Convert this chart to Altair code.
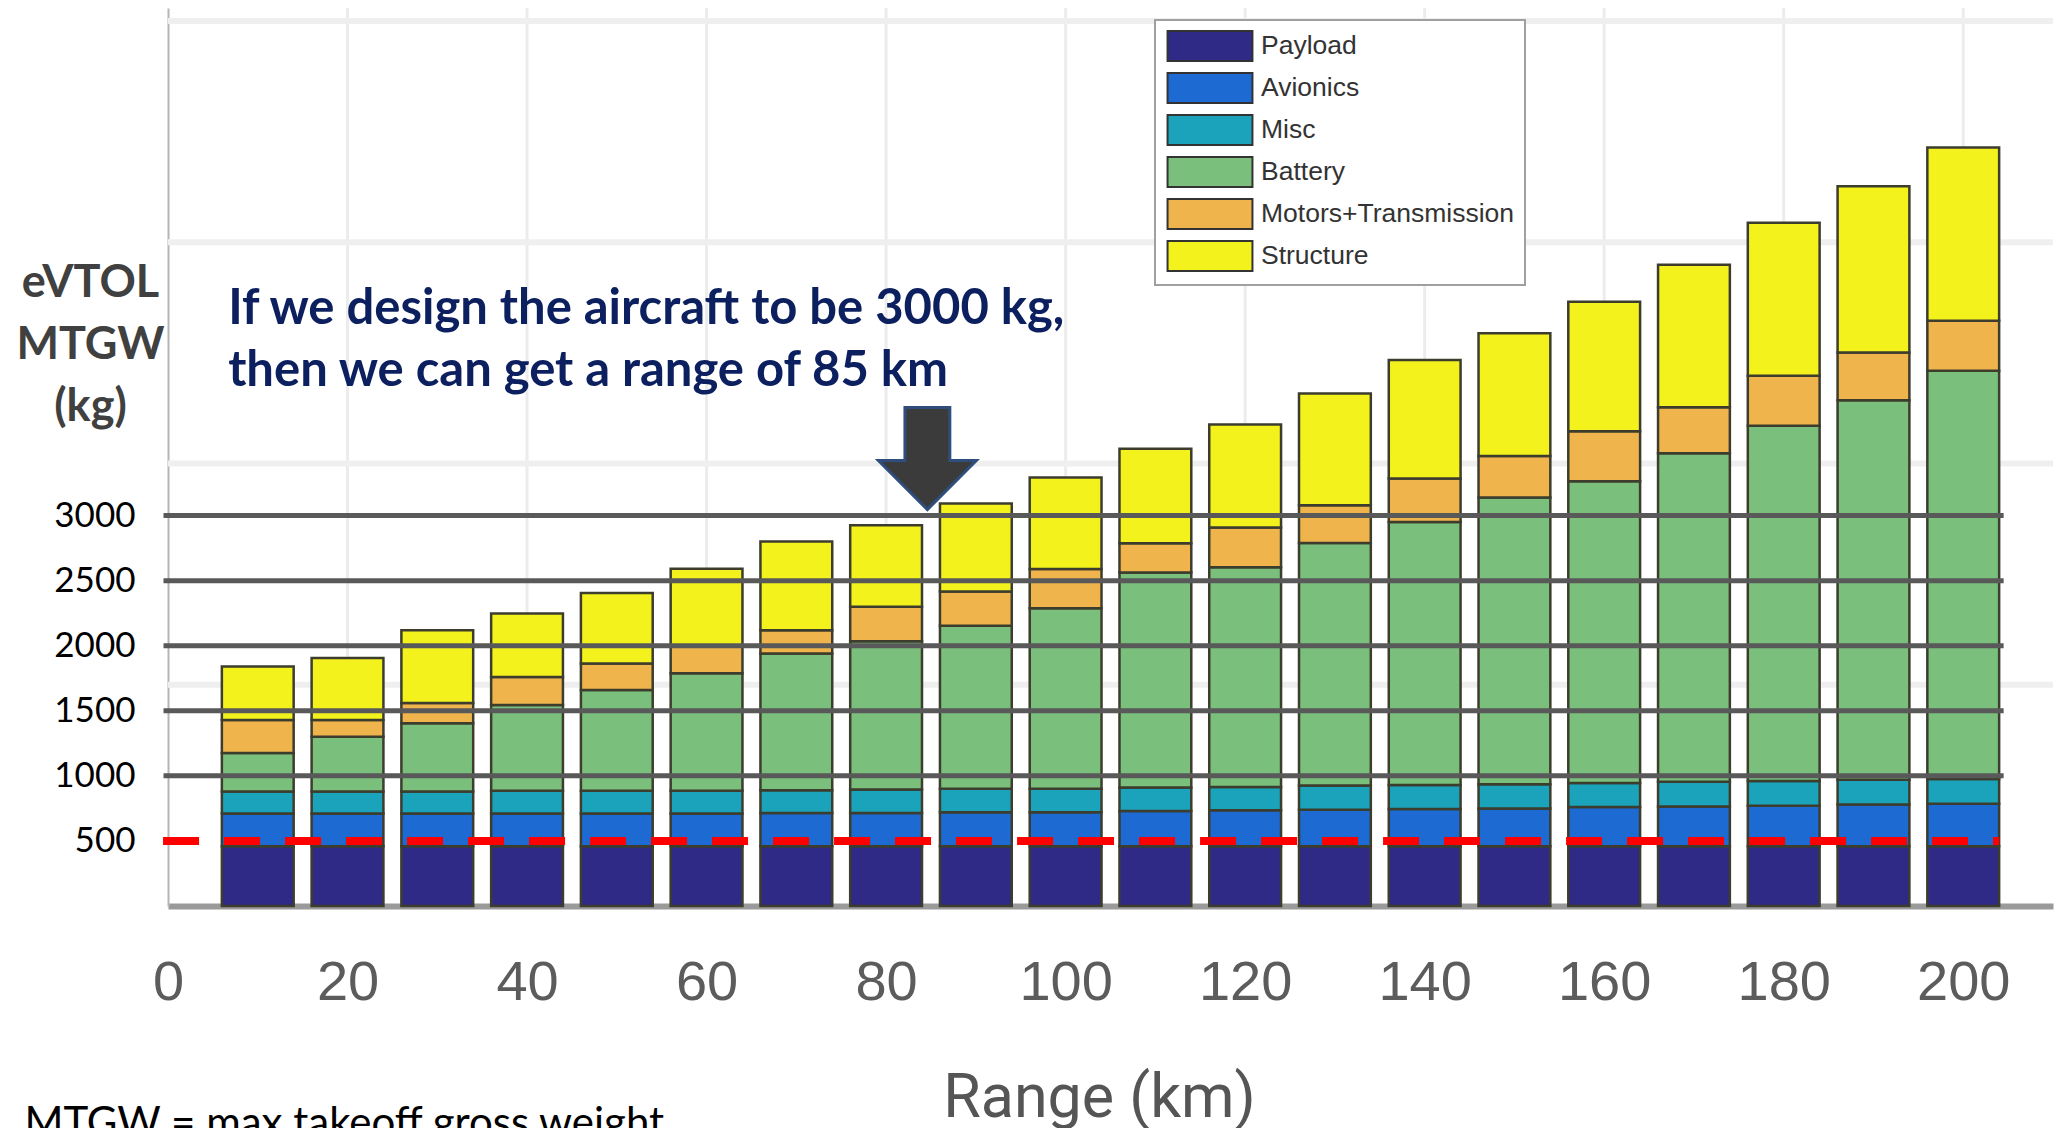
import altair as alt
import pandas as pd

# ---------------- data ----------------
ranges = [10, 20, 30, 40, 50, 60, 70, 80, 90, 100,
          110, 120, 130, 140, 150, 160, 170, 180, 190, 200]
payload_kg = [460, 460, 460, 460, 460, 460, 460, 460, 460, 460,
              460, 460, 460, 460, 460, 460, 460, 460, 460, 460]
avionics_kg = [250, 250, 250, 250, 250, 250, 255, 255, 260, 260,
               270, 275, 280, 285, 290, 300, 305, 310, 320, 325]
misc_kg = [170, 170, 170, 175, 175, 175, 175, 180, 180, 180,
           180, 180, 185, 185, 185, 185, 190, 190, 190, 190]
battery_kg = [295, 420, 525, 660, 775, 903, 1050, 1140, 1253, 1387,
              1653, 1688, 1864, 2020, 2203, 2319, 2524, 2731, 2916, 3138]
motors_kg = [255, 130, 155, 215, 203, 210, 178, 264, 264, 303,
             225, 306, 291, 334, 320, 384, 353, 384, 366, 384]
structure_kg = [410, 475, 558, 488, 542, 594, 682, 626, 676, 702,
                726, 790, 857, 911, 942, 995, 1096, 1174, 1279, 1332]

components = ["Payload", "Avionics", "Misc", "Battery",
              "Motors+Transmission", "Structure"]
comp_colors = ["#2e2a86", "#1c6ad2", "#1ba3bb", "#7abf7c", "#efb44c", "#f4f21c"]

x_ticks = [0, 20, 40, 60, 80, 100, 120, 140, 160, 180, 200]
y_ticks = [500, 1000, 1500, 2000, 2500, 3000]
bold_grid_kg = [1000, 1500, 2000, 2500, 3000]
dashed_kg = [500]
faint_grid_kg = [1700, 3400, 5100, 6800]
faint_grid_km = [20, 40, 60, 80, 100, 120, 140, 160, 180, 200]

arrow_km = [84.6]
arrow_kg = [3438]

note_lines = ["If we design the aircraft to be 3000 kg,",
              "then we can get a range of 85 km"]
note_km = [6.7, 6.7]
note_kg = [4475, 3995]

foot_text = ["MTGW = max takeoff gross weight"]
foot_km = [-16.0]
foot_kg = [-1773]

# ---------------- tables ----------------
series = [payload_kg, avionics_kg, misc_kg, battery_kg, motors_kg, structure_kg]
rows = []
for i, r in enumerate(ranges):
    base = 0
    for k, (name, vals) in enumerate(zip(components, series)):
        rows.append({"Range": r, "Component": name, "lo": base,
                     "hi": base + vals[i], "order": k})
        base += vals[i]
bars_df = pd.DataFrame(rows)

HELV = "Liberation Sans, Roboto, sans-serif"

xscale = alt.Scale(domain=[0, 210], nice=False, zero=False)
yscale = alt.Scale(domain=[0, 6900], nice=False, zero=False)

x_axis = alt.Axis(values=x_ticks, title="Range (km)", labelFont=HELV,
                  labelFontSize=56, labelColor="#5c5c5c", labelBaseline="middle",
                  labelPadding=76, ticks=False, grid=False, domainColor="#9a9a9a",
                  domainWidth=6, labelFlush=False, labelOverlap=False,
                  titleFont="Roboto", titleFontSize=61, titleFontWeight="normal",
                  titleColor="#555555", titleX=931, titleY=210,
                  titleBaseline="alphabetic", titleAlign="center")

y_axis = alt.Axis(values=y_ticks, format="d", title=["eVTOL", "MTGW", "(kg)"],
                  titleAngle=0, titleAlign="center", titleBaseline="alphabetic",
                  titleX=-78, titleY=288, titleFont="Lato", titleFontSize=45,
                  titleFontWeight="bold", titleColor="#404040", titleLineHeight=62,
                  labelFont="Lato", labelFontSize=35, labelColor="#000000",
                  labelPadding=33, ticks=False, grid=False, domainColor="#b5b5b5",
                  domainWidth=2)

legend = alt.Legend(title=None, orient="none", legendX=987, legendY=12,
                    symbolType="M-2.83,-1H2.83V1H-2.83Z", symbolSize=900,
                    symbolStrokeColor="#333333", symbolStrokeWidth=2,
                    symbolOffset=29, labelOffset=35, labelFont=HELV,
                    labelFontSize=26.5, labelColor="#333333", labelLimit=600,
                    rowPadding=4, padding=10, fillColor="#ffffff",
                    strokeColor="#a0a0a0")


def X(field):
    return alt.X(field, scale=xscale, axis=x_axis)


def Y(field):
    return alt.Y(field, scale=yscale, axis=y_axis)


# faint underlying grid
vgrid = alt.Chart(pd.DataFrame({"km": faint_grid_km})).mark_rule(
    color="#ececec", strokeWidth=3).encode(x=X("km:Q"))
hgrid = alt.Chart(pd.DataFrame({"kg": faint_grid_kg})).mark_rule(
    color="#efefef", strokeWidth=6).encode(y=Y("kg:Q"))

bars = alt.Chart(bars_df).transform_calculate(
    x_lo="datum.Range - 4", x_hi="datum.Range + 4"
).mark_bar(stroke="#3d3d2e", strokeWidth=2.5).encode(
    x=X("x_lo:Q"),
    x2="x_hi:Q",
    y=Y("lo:Q"),
    y2="hi:Q",
    color=alt.Color("Component:N",
                    scale=alt.Scale(domain=components, range=comp_colors),
                    legend=legend),
    order=alt.Order("order:Q"),
)

bold_df = pd.DataFrame({"kg": bold_grid_kg, "a": -0.5, "b": 204.5})
bold = alt.Chart(bold_df).mark_rule(color="#595959", strokeWidth=5).encode(
    x=X("a:Q"), x2="b:Q", y=Y("kg:Q"))

dash_df = pd.DataFrame({"kg": dashed_kg, "a": -0.55, "b": 204.0})
dashed = alt.Chart(dash_df).mark_rule(color="#ff0000", strokeWidth=8,
                                      strokeDash=[36, 25]).encode(
    x=X("a:Q"), x2="b:Q", y=Y("kg:Q"))

arrow_path = ("M-0.44,-1L0.44,-1L0.44,0.04L0.96,0.04L0,1"
              "L-0.96,0.04L-0.44,0.04Z")
arrow = alt.Chart(pd.DataFrame({"km": arrow_km, "kg": arrow_kg})).mark_point(
    shape=arrow_path, size=10404, filled=True, fill="#3b3b3b",
    stroke="#2f4e7d", strokeWidth=3, opacity=1).encode(
    x=X("km:Q"), y=Y("kg:Q"))

note = alt.Chart(pd.DataFrame({"t": note_lines, "km": note_km, "kg": note_kg})).mark_text(
    align="left", baseline="alphabetic", font="Lato", fontSize=49,
    fontWeight="bold", color="#0c1f5e").encode(
    x=X("km:Q"), y=Y("kg:Q"), text="t:N")

foot = alt.Chart(pd.DataFrame({"t": foot_text, "km": foot_km, "kg": foot_kg})).mark_text(
    align="left", baseline="alphabetic", font="Lato", fontSize=42,
    color="#000000").encode(
    x=X("km:Q"), y=Y("kg:Q"), text="t:N")

chart = alt.layer(vgrid, hgrid, bars, bold, dashed, arrow, note, foot).properties(
    width=1885, height=898,
    autosize=alt.AutoSizeParams(type="none"),
    padding={"left": 160, "top": 0, "right": 2, "bottom": 222},
    background="#ffffff",
).configure_view(strokeWidth=0).configure_legend(strokeWidth=2)

chart.save("out.html", embed_options={"renderer": "svg", "actions": False})
